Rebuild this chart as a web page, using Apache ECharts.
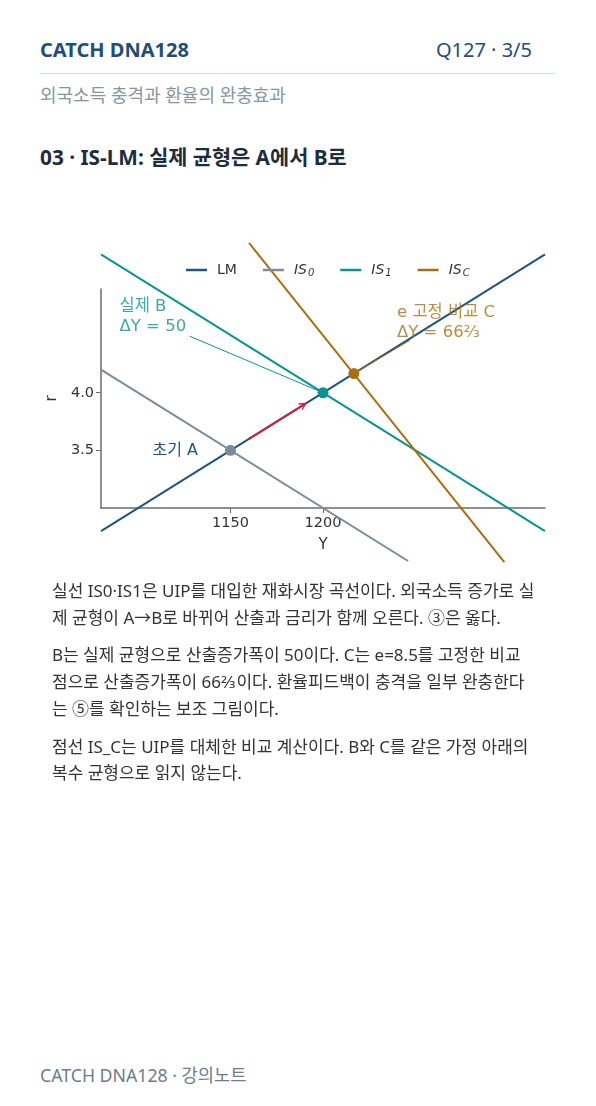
<!DOCTYPE html>
<html lang="ko">
<head>
<meta charset="utf-8">
<script src="https://cdn.jsdelivr.net/npm/echarts@6/dist/echarts.min.js"></script>
<style>
  html, body { margin: 0; padding: 0; background: #ffffff; }
  body { width: 596px; height: 1106px; position: relative; overflow: hidden;
         font-family: "Noto Sans", "Noto Sans CJK KR", sans-serif; }
  .brand { position: absolute; left: 40px; top: 36px; font-size: 20px; line-height: 28px; font-weight: 700; color: #1f4e79; }
  .page { position: absolute; right: 64px; top: 36px; font-size: 20px; line-height: 28px; color: #1f4e79; }
  .rule { position: absolute; left: 40px; right: 41px; top: 73px; height: 1px; background: #cfdeeb; }
  .sub { position: absolute; left: 40px; top: 83px; font-size: 18px; line-height: 24px; color: #8795a1; }
  .title { position: absolute; left: 40px; top: 142px; font-size: 20.8px; line-height: 30px; font-weight: 700; color: #1e2d3d; }
  #chart { position: absolute; left: 0; top: 200px; width: 596px; height: 380px; }
  .body { position: absolute; left: 52px; top: 578px; width: 540px; font-size: 17px; line-height: 26.7px; color: #333; white-space: nowrap; }
  .body p { margin: 0 0 11px 0; }
  .foot { position: absolute; left: 40px; top: 1063px; font-size: 17.7px; line-height: 24px; color: #6b7d8f; }
</style>
</head>
<body>
<div class="brand">CATCH DNA128</div>
<div class="page">Q127 · 3/5</div>
<div class="rule"></div>
<div class="sub">외국소득 충격과 환율의 완충효과</div>
<div class="title">03 · IS-LM: 실제 균형은 A에서 B로</div>
<div id="chart"></div>
<div class="body">
  <p>실선 IS0·IS1은 UIP를 대입한 재화시장 곡선이다. 외국소득 증가로 실<br>제 균형이 A→B로 바뀌어 산출과 금리가 함께 오른다. ③은 옳다.</p>
  <p>B는 실제 균형으로 산출증가폭이 50이다. C는 e=8.5를 고정한 비교<br>점으로 산출증가폭이 66⅔이다. 환율피드백이 충격을 일부 완충한다<br>는 ⑤를 확인하는 보조 그림이다.</p>
  <p>점선 IS_C는 UIP를 대체한 비교 계산이다. B와 C를 같은 가정 아래의<br>복수 균형으로 읽지 않는다.</p>
</div>
<div class="foot">CATCH DNA128 · 강의노트</div>
<script>
// ---- data ----
const xRange = [1080, 1320];
const yRange = [3.0, 4.9];
const xTicks = [1150, 1200];
const yTicks = [3.5, 4.0];
const seriesNames = ['LM', 'IS0', 'IS1', 'ISC'];
const lmLine  = [[1080, 2.8], [1320, 5.2]];
const is0Line = [[1080, 4.2], [1246, 2.54]];
const is1Line = [[1080, 5.2], [1320, 2.8]];
const iscLine = [[1160, 5.3], [1298, 2.53]];
const pointA = [1150, 3.5];
const pointB = [1200, 4.0];
const pointC = [1216.67, 4.1667];
const shiftArrow = [[1160, 3.6], [1189.5, 3.895]];
const leaderB = [[1128, 4.49], [1200, 4.0]];
const leaderC = [[1247, 4.455], [1216.67, 4.1667]];
const labelA = '초기 A';
const labelB = ['실제 B', 'ΔY = 50'];
const labelC = ['e 고정 비교 C', 'ΔY = 66⅔'];
const labelBPos = [1090, 4.66];
const labelCPos = [1240, 4.61];
const xName = 'Y';
const yName = 'r';

const C_LM = '#1f5582', C_IS0 = '#7a8c9c', C_IS1 = '#0a9490', C_ISC = '#a7700f', C_ARROW = '#d21f47';
const FONT = '"DejaVu Sans", "Noto Sans CJK KR", sans-serif';

const chart = echarts.init(document.getElementById('chart'), null, { renderer: 'canvas' });

function lineSeries(name, data, color) {
  return { name, type: 'line', data, symbol: 'none', clip: false, silent: true,
           lineStyle: { color, width: 2 }, itemStyle: { color }, z: 2 };
}
function pointSeries(name, p, color, label) {
  return { name, type: 'scatter', data: [p], symbolSize: 11, clip: false, silent: true,
           itemStyle: { color, opacity: 1 }, z: 6, label: label || { show: false } };
}
function textSeries(name, p, lines, color) {
  return { name, type: 'scatter', data: [p], symbolSize: 0, clip: false, silent: true, z: 7,
           label: { show: true, position: 'right', distance: 0, formatter: lines.join('\n'),
                    color, fontSize: 16.5, lineHeight: 20, fontFamily: FONT, align: 'left' } };
}

const legendSub = { IS0: '0', IS1: '1', ISC: 'C' };

chart.setOption({
  animation: false,
  textStyle: { fontFamily: FONT },
  grid: { left: 101, right: 51, top: 89, bottom: 72, containLabel: false },
  legend: {
    data: seriesNames, left: 181, top: 58, icon: 'rect', itemWidth: 21, itemHeight: 2.5, itemGap: 26,
    textStyle: { fontSize: 14, color: '#333', fontFamily: FONT, padding: [0, 0, 0, 5],
      rich: { i: { fontStyle: 'italic', fontSize: 14, color: '#333', fontFamily: FONT },
              s: { fontStyle: 'italic', fontSize: 10, color: '#333', fontFamily: FONT, padding: [7, 0, 0, 1] } } },
    formatter: n => n === 'LM' ? n : '{i|IS}{s|' + legendSub[n] + '}'
  },
  xAxis: {
    type: 'value', min: xRange[0], max: xRange[1], name: xName, nameLocation: 'middle', nameGap: 30,
    nameTextStyle: { fontSize: 15, color: '#333' },
    axisLine: { show: true, onZero: false, lineStyle: { color: '#6b6b6b', width: 1.5 } },
    axisTick: { show: true, customValues: xTicks, length: 5, lineStyle: { color: '#6b6b6b' } },
    axisLabel: { customValues: xTicks, fontSize: 14.5, color: '#333', margin: 8, formatter: v => String(v) },
    splitLine: { show: false }
  },
  yAxis: {
    type: 'value', min: yRange[0], max: yRange[1], name: yName, nameLocation: 'middle', nameGap: 36,
    nameRotate: 90, nameTextStyle: { fontSize: 15, color: '#333' },
    axisLine: { show: true, onZero: false, lineStyle: { color: '#6b6b6b', width: 1.5 } },
    axisTick: { show: true, customValues: yTicks, length: 5, lineStyle: { color: '#6b6b6b' } },
    axisLabel: { customValues: yTicks, fontSize: 14.5, color: '#333', margin: 7, formatter: v => v.toFixed(1) },
    splitLine: { show: false }
  },
  series: [
    lineSeries('LM', lmLine, C_LM),
    lineSeries('IS0', is0Line, C_IS0),
    lineSeries('IS1', is1Line, C_IS1),
    lineSeries('ISC', iscLine, C_ISC),
    { name: 'leaderB', type: 'line', data: leaderB, symbol: 'none', clip: false, silent: true,
      lineStyle: { color: C_IS1, width: 1 }, z: 3 },
    { name: 'leaderC', type: 'line', data: leaderC, symbol: 'none', clip: false, silent: true,
      lineStyle: { color: C_ISC, width: 1 }, z: 3 },
    { name: 'arrow', type: 'lines', coordinateSystem: 'cartesian2d', silent: true, z: 4,
      symbol: ['none', 'path://M0,10 L5,0 L10,10 L8.4,10.6 L5,3.6 L1.6,10.6 Z'], symbolSize: [9, 8],
      data: [{ coords: shiftArrow }], lineStyle: { color: C_ARROW, width: 2, opacity: 1 },
      itemStyle: { color: C_ARROW } },
    pointSeries('A', pointA, C_IS0, { show: true, position: 'left', distance: 27, formatter: labelA,
      color: C_LM, fontSize: 16, fontFamily: FONT }),
    pointSeries('B', pointB, C_IS1),
    pointSeries('C', pointC, C_ISC),
    textSeries('labB', labelBPos, labelB, C_IS1),
    textSeries('labC', labelCPos, labelC, C_ISC)
  ]
});
</script>
</body>
</html>
